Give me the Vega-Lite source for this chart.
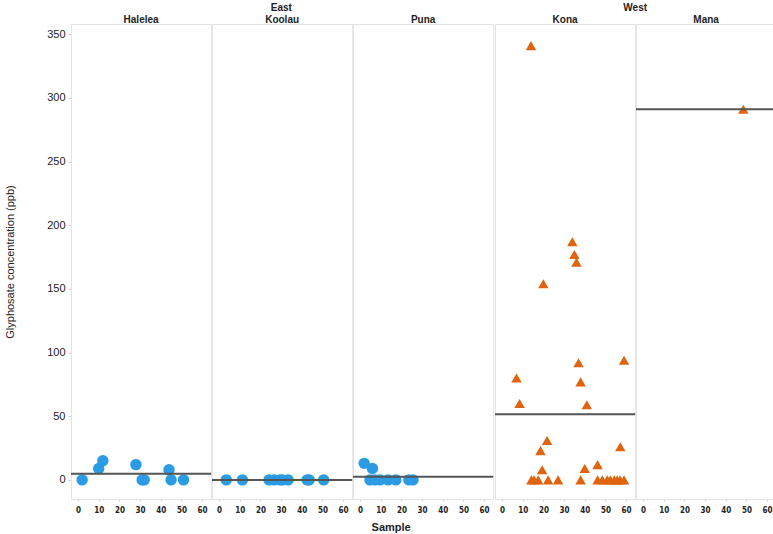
{
  "$schema": "https://vega.github.io/schema/vega-lite/v6.json",
  "padding": {"left": 4, "top": 3, "right": 0, "bottom": 0},
  "background": "white",
  "data": {"values": [
    {"region": "East", "district": "Halelea", "sample": 2, "conc": 0},
    {"region": "East", "district": "Halelea", "sample": 10, "conc": 9},
    {"region": "East", "district": "Halelea", "sample": 12, "conc": 15},
    {"region": "East", "district": "Halelea", "sample": 28, "conc": 12},
    {"region": "East", "district": "Halelea", "sample": 31, "conc": 0},
    {"region": "East", "district": "Halelea", "sample": 32, "conc": 0},
    {"region": "East", "district": "Halelea", "sample": 44, "conc": 8},
    {"region": "East", "district": "Halelea", "sample": 45, "conc": 0},
    {"region": "East", "district": "Halelea", "sample": 51, "conc": 0},
    {"region": "East", "district": "Koolau", "sample": 3.5, "conc": 0},
    {"region": "East", "district": "Koolau", "sample": 11.3, "conc": 0},
    {"region": "East", "district": "Koolau", "sample": 24.2, "conc": 0},
    {"region": "East", "district": "Koolau", "sample": 26.6, "conc": 0},
    {"region": "East", "district": "Koolau", "sample": 29.4, "conc": 0},
    {"region": "East", "district": "Koolau", "sample": 30.7, "conc": 0},
    {"region": "East", "district": "Koolau", "sample": 33.4, "conc": 0},
    {"region": "East", "district": "Koolau", "sample": 42.6, "conc": 0},
    {"region": "East", "district": "Koolau", "sample": 43.6, "conc": 0},
    {"region": "East", "district": "Koolau", "sample": 50.6, "conc": 0},
    {"region": "East", "district": "Puna", "sample": 2, "conc": 13},
    {"region": "East", "district": "Puna", "sample": 6, "conc": 9},
    {"region": "East", "district": "Puna", "sample": 4.8, "conc": 0},
    {"region": "East", "district": "Puna", "sample": 7.2, "conc": 0},
    {"region": "East", "district": "Puna", "sample": 9.6, "conc": 0},
    {"region": "East", "district": "Puna", "sample": 13.6, "conc": 0},
    {"region": "East", "district": "Puna", "sample": 17.3, "conc": 0},
    {"region": "East", "district": "Puna", "sample": 23.6, "conc": 0},
    {"region": "East", "district": "Puna", "sample": 25.6, "conc": 0},
    {"region": "West", "district": "Kona", "sample": 14, "conc": 341},
    {"region": "West", "district": "Kona", "sample": 34, "conc": 187},
    {"region": "West", "district": "Kona", "sample": 35, "conc": 177},
    {"region": "West", "district": "Kona", "sample": 36, "conc": 171},
    {"region": "West", "district": "Kona", "sample": 20, "conc": 154},
    {"region": "West", "district": "Kona", "sample": 37, "conc": 92},
    {"region": "West", "district": "Kona", "sample": 59, "conc": 94},
    {"region": "West", "district": "Kona", "sample": 7, "conc": 80},
    {"region": "West", "district": "Kona", "sample": 38, "conc": 77},
    {"region": "West", "district": "Kona", "sample": 8.5, "conc": 60},
    {"region": "West", "district": "Kona", "sample": 41, "conc": 59},
    {"region": "West", "district": "Kona", "sample": 21.8, "conc": 31},
    {"region": "West", "district": "Kona", "sample": 57.2, "conc": 26},
    {"region": "West", "district": "Kona", "sample": 18.6, "conc": 23},
    {"region": "West", "district": "Kona", "sample": 46.2, "conc": 12},
    {"region": "West", "district": "Kona", "sample": 40, "conc": 9},
    {"region": "West", "district": "Kona", "sample": 19.4, "conc": 8},
    {"region": "West", "district": "Kona", "sample": 14.2, "conc": 0},
    {"region": "West", "district": "Kona", "sample": 15.5, "conc": 0},
    {"region": "West", "district": "Kona", "sample": 17.5, "conc": 0},
    {"region": "West", "district": "Kona", "sample": 22.3, "conc": 0},
    {"region": "West", "district": "Kona", "sample": 27.1, "conc": 0},
    {"region": "West", "district": "Kona", "sample": 38, "conc": 0},
    {"region": "West", "district": "Kona", "sample": 46.2, "conc": 0},
    {"region": "West", "district": "Kona", "sample": 48.5, "conc": 0},
    {"region": "West", "district": "Kona", "sample": 50.9, "conc": 0},
    {"region": "West", "district": "Kona", "sample": 52.4, "conc": 0},
    {"region": "West", "district": "Kona", "sample": 54.3, "conc": 0},
    {"region": "West", "district": "Kona", "sample": 55.7, "conc": 0},
    {"region": "West", "district": "Kona", "sample": 57.1, "conc": 0},
    {"region": "West", "district": "Kona", "sample": 59, "conc": 0},
    {"region": "West", "district": "Mana", "sample": 48.5, "conc": 291}
  ]},
  "title": {"text": "Sample", "orient": "bottom", "anchor": "middle", "fontSize": 11, "fontWeight": "bold", "font": "Liberation Sans", "color": "#222", "offset": 8},
  "spacing": -4.5,
  "hconcat": [
    {
      "title": {"text": "East", "anchor": "middle", "frame": "group", "dx": 210.3, "offset": 2, "fontSize": 10, "fontWeight": "bold", "color": "#222", "font": "Liberation Sans"},
      "transform": [{"filter": "datum.region === 'East'"}],
      "facet": {"column": {"field": "district", "type": "nominal", "sort": ["Halelea", "Koolau", "Puna"], "title": null}},
      "spacing": 0,
      "bounds": "flush",
      "spec": {
        "width": 140.2,
        "height": 475,
        "layer": [
          {
            "mark": {"type": "point", "shape": "circle", "filled": true, "size": 130, "color": "#2b9be3", "opacity": 1},
            "encoding": {
              "x": {"field": "sample", "type": "quantitative", "scale": {"domain": [-3.4, 64.4], "nice": false, "zero": false}, "axis": {"values": [0, 10, 20, 30, 40, 50, 60], "title": null}},
              "y": {"field": "conc", "type": "quantitative", "scale": {"domain": [-15, 358], "nice": false, "zero": false}, "axis": {"values": [0, 50, 100, 150, 200, 250, 300, 350], "title": "Glyphosate concentration (ppb)"}}
            }
          },
          {
            "mark": {"type": "rule", "color": "#555", "strokeWidth": 2},
            "encoding": {
              "y": {"aggregate": "mean", "field": "conc", "type": "quantitative"}
            }
          }
        ]
      }
    },
    {
      "title": {"text": "West", "anchor": "middle", "frame": "group", "dx": 140.2, "offset": 2, "fontSize": 10, "fontWeight": "bold", "color": "#222", "font": "Liberation Sans"},
      "transform": [{"filter": "datum.region === 'West'"}],
      "facet": {"column": {"field": "district", "type": "nominal", "sort": ["Kona", "Mana"], "title": null}},
      "spacing": 0,
      "bounds": "flush",
      "spec": {
        "width": 140.2,
        "height": 475,
        "layer": [
          {
            "mark": {"type": "point", "shape": "triangle-up", "filled": true, "size": 110, "color": "#e0640f", "opacity": 1},
            "encoding": {
              "x": {"field": "sample", "type": "quantitative", "scale": {"domain": [-3.4, 64.4], "nice": false, "zero": false}, "axis": {"values": [0, 10, 20, 30, 40, 50, 60], "title": null}},
              "y": {"field": "conc", "type": "quantitative", "scale": {"domain": [-15, 358], "nice": false, "zero": false}, "axis": null}
            }
          },
          {
            "mark": {"type": "rule", "color": "#555", "strokeWidth": 2},
            "encoding": {
              "y": {"aggregate": "mean", "field": "conc", "type": "quantitative"}
            }
          }
        ]
      }
    }
  ],
  "config": {
    "font": "Liberation Sans",
    "view": {"stroke": "#e3e3e3", "strokeWidth": 1},
    "axis": {"grid": false, "domain": false, "tickColor": "#d0d0d0", "tickSize": 3, "labelColor": "#222"},
    "axisY": {"labelFontSize": 11, "labelPadding": 3, "titleFontSize": 11, "titleFontWeight": "normal", "titleColor": "#222", "titlePadding": 31},
    "axisX": {"labelFontSize": 8, "labelFontWeight": "bold", "labelFont": "DejaVu Sans Condensed", "labelPadding": 5, "tickSize": 2},
    "header": {
      "labelFontSize": 10, "labelFontWeight": "bold", "labelColor": "#222", "labelPadding": -1
    }
  }
}
